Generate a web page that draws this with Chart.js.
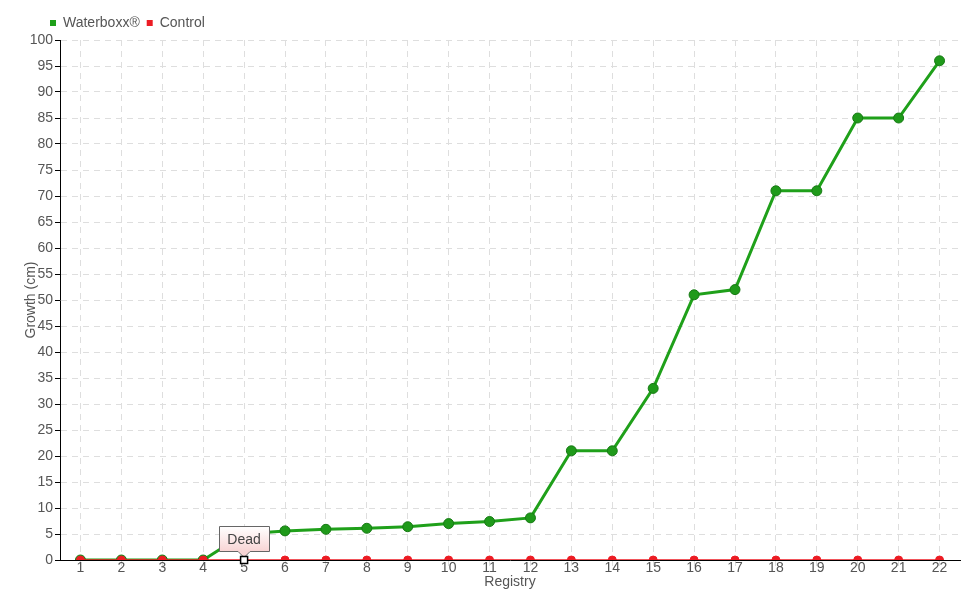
<!DOCTYPE html>
<html>
<head>
<meta charset="utf-8">
<script src="https://cdn.jsdelivr.net/npm/chart.js@4.4.0/dist/chart.umd.min.js"></script>
<style>
html,body{margin:0;padding:0;background:#fff;}
#wrap{width:980px;height:600px;position:relative;}
</style>
</head>
<body>
<div id="wrap"><canvas id="c" width="980" height="600"></canvas></div>
<script>
const categories = ['1','2','3','4','5','6','7','8','9','10','11','12','13','14','15','16','17','18','19','20','21','22'];
const waterboxx = [0,0,0,0,5,5.6,5.9,6.1,6.4,7.0,7.4,8.1,21,21,33,51,52,71,71,85,85,96];
const control = [0,0,0,0,0,0,0,0,0,0,0,0,0,0,0,0,0,0,0,0,0,0];
const annotationIndex = 4;
const annotationText = 'Dead';
const yTicks = [0,5,10,15,20,25,30,35,40,45,50,55,60,65,70,75,80,85,90,95,100];

const FONT = "'Liberation Sans','Arial',sans-serif";
const TXT = '#555';

const ctrlStyle = control.map((v,i)=> i===annotationIndex ? 'rect' : 'circle');
const ctrlBg = control.map((v,i)=> i===annotationIndex ? '#fff' : '#ec1c24');
const ctrlBorder = control.map((v,i)=> i===annotationIndex ? '#000' : '#ec1c24');
const ctrlRadius = control.map((v,i)=> i===annotationIndex ? 3.5 : 4);

const legendShift = {
  id:'legendShift',
  afterLayout(chart){
    if (chart.legend) { chart.legend.left += 43; chart.legend.right += 43; }
  }
};

const annotPlugin = {
  id:'annot',
  afterDatasetsDraw(chart){
    const ctx = chart.ctx;
    const meta = chart.getDatasetMeta(1);
    const pt = meta.data[annotationIndex];
    const x = pt.x, y = pt.y;
    const w = 50, h = 25;
    const bx = Math.round(x - w/2) + 0.5, by = Math.round(y - 34) + 0.5;
    ctx.save();
    const g = ctx.createLinearGradient(0, by, 0, by+h);
    g.addColorStop(0,'#ffffff');
    g.addColorStop(1,'#f8d4d4');
    ctx.beginPath();
    ctx.moveTo(bx, by);
    ctx.lineTo(bx+w, by);
    ctx.lineTo(bx+w, by+h);
    ctx.lineTo(x+6, by+h);
    ctx.lineTo(x, by+h+6);
    ctx.lineTo(x-6, by+h);
    ctx.lineTo(bx, by+h);
    ctx.closePath();
    ctx.fillStyle = g;
    ctx.fill();
    ctx.strokeStyle = '#666';
    ctx.lineWidth = 1;
    ctx.stroke();
    ctx.fillStyle = '#444';
    ctx.font = "14px " + FONT;
    ctx.textAlign = 'center';
    ctx.textBaseline = 'middle';
    ctx.fillText(annotationText, x, by + h/2 + 1);
    ctx.beginPath();
    ctx.rect(x-3.5, y-3.5, 7, 7);
    ctx.fillStyle = '#fff';
    ctx.fill();
    ctx.strokeStyle = '#000';
    ctx.lineWidth = 1.5;
    ctx.stroke();
    ctx.restore();
  }
};

new Chart(document.getElementById('c'), {
  type:'line',
  data:{
    labels: categories,
    datasets:[
      {
        label:'Waterboxx®',
        data: waterboxx,
        borderColor:'#1fa01a',
        backgroundColor:'#1f9a1a',
        pointBorderColor:'#177a14',
        pointBackgroundColor:'#1f9a1a',
        borderWidth:3,
        pointRadius:5,
        pointBorderWidth:1,
        tension:0,
        order:2
      },
      {
        label:'Control',
        data: control,
        borderColor:'#ec1c24',
        backgroundColor:'#ec1c24',
        pointStyle: ctrlStyle,
        pointBackgroundColor: ctrlBg,
        pointBorderColor: ctrlBorder,
        pointRadius: ctrlRadius,
        pointBorderWidth:1,
        borderWidth:1.5,
        tension:0,
        order:1
      }
    ]
  },
  options:{
    responsive:false,
    animation:false,
    events:[],
    layout:{padding:{left:0,right:20,top:9,bottom:0}},
    plugins:{
      legend:{
        display:true,
        position:'top',
        align:'start',
        labels:{
          boxWidth:6, boxHeight:6, padding:7,
          color:TXT,
          font:{family:FONT,size:14},
          generateLabels(chart){
            return chart.data.datasets.map((d,i)=>({
              text:d.label, fillStyle:d.borderColor, strokeStyle:d.borderColor,
              lineWidth:0, pointStyle:'rect', datasetIndex:i, fontColor:TXT
            }));
          }
        }
      },
      tooltip:{enabled:false}
    },
    scales:{
      x:{
        offset:true,
        afterFit(s){ s.height = 40; },
        grid:{color:'#dedede', drawTicks:true, tickLength:6, offset:false},
        border:{color:'#000', width:1, dash:[6,5]},
        ticks:{color:TXT, font:{family:FONT,size:14}, padding:-6, maxRotation:0, autoSkip:false},
        title:{display:true, text:'Registry', color:TXT, font:{family:FONT,size:14}, padding:{top:0,bottom:9}}
      },
      y:{
        min:0, max:100,
        afterFit(s){ s.width = 60; },
        afterBuildTicks(s){ s.ticks = yTicks.map(v=>({value:v})); },
        grid:{color:'#dedede', tickColor:'#000', tickLength:5, drawTicks:true},
        border:{color:'#000', width:1, dash:[6,5]},
        ticks:{color:TXT, font:{family:FONT,size:14}, padding:2},
        title:{display:true, text:'Growth (cm)', color:TXT, font:{family:FONT,size:14}, padding:{top:23,bottom:0}}
      }
    }
  },
  plugins:[annotPlugin, legendShift]
});
</script>
</body>
</html>
